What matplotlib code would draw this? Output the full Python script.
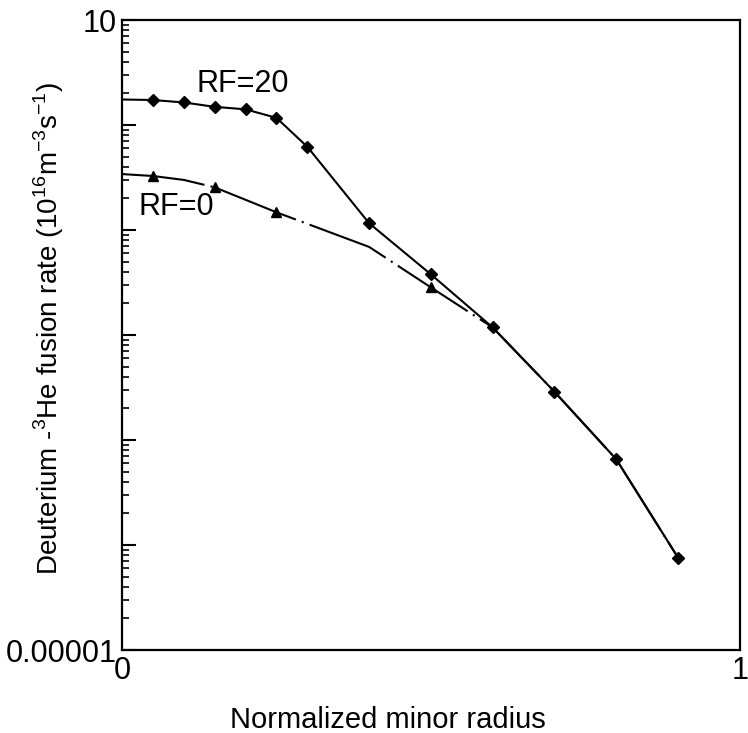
import numpy as np
import matplotlib
matplotlib.use('Agg')
import matplotlib.pyplot as plt
from matplotlib.ticker import LogLocator, FixedLocator, NullFormatter

plt.rcParams['font.family'] = ['Liberation Sans', 'DejaVu Sans']
plt.rcParams['mathtext.fontset'] = 'custom'
plt.rcParams['mathtext.rm'] = 'Liberation Sans'

# RF=20 curve (diamonds), first point at r=0 has no marker
r_rf20 = [0.0, 0.05, 0.1, 0.15, 0.2, 0.25, 0.3, 0.4, 0.5, 0.6, 0.7, 0.8, 0.9]
rate_rf20 = [1.75, 1.73, 1.64, 1.49, 1.41, 1.17, 0.62, 0.116, 0.0378, 0.0118,
             0.00288, 0.000655, 0.0000757]

# RF=0 curve (triangles)
r_rf0 = [0.0, 0.05, 0.1, 0.15, 0.25, 0.4, 0.5, 0.6, 0.7, 0.8, 0.9]
rate_rf0 = [0.341, 0.327, 0.30, 0.255, 0.1475, 0.069, 0.0284, 0.0118,
            0.00288, 0.000655, 0.0000757]
marked_rf0 = [1, 3, 4, 6]

fig = plt.figure(figsize=(7.48, 7.33), dpi=100)
ax = fig.add_axes([0.1631, 0.1132, 0.826, 0.8595])

ax.plot(r_rf0, rate_rf0, color='black', lw=1.5, dashes=(40, 3, 1, 3),
        marker='^', ms=7, markevery=marked_rf0)
ax.plot(r_rf20, rate_rf20, color='black', lw=1.5,
        marker='D', ms=6, markevery=list(range(1, len(r_rf20))))

ax.set_yscale('log')
ax.set_xlim(0, 1)
ax.set_ylim(1e-5, 10)

ax.yaxis.set_minor_locator(LogLocator(base=10, subs=np.arange(2, 10), numticks=10))
ax.yaxis.set_minor_formatter(NullFormatter())
ax.set_yticks([1e-5, 1e-4, 1e-3, 1e-2, 1e-1, 1, 10])
ax.set_yticklabels(['0.00001', '', '', '', '', '', '10'])
ax.tick_params(axis='y', which='major', direction='in', length=10, width=1.5,
               labelsize=22, right=False, pad=4)
ax.tick_params(axis='y', which='minor', direction='in', length=5, width=1.2,
               right=False)

ax.xaxis.set_major_locator(FixedLocator([0, 1]))
ax.set_xticklabels(['0', '1'])
ax.tick_params(axis='x', which='both', length=0, labelsize=22, pad=4)

for s in ax.spines.values():
    s.set_linewidth(1.6)

ax.set_xlabel('Normalized minor radius', fontsize=21)
ax.xaxis.set_label_coords(0.43, -0.089)
ax.set_ylabel(r'Deuterium -$^{3}$He fusion rate (10$^{16}$m$^{-3}$s$^{-1}$)',
              fontsize=20)
ax.yaxis.set_label_coords(-0.09, 0.511)

ax.text(0.12, 2.46, 'RF=20', fontsize=22, va='center', ha='left')
ax.text(0.026, 0.166, 'RF=0', fontsize=22, va='center', ha='left')

fig.savefig('out.png', dpi=100)
